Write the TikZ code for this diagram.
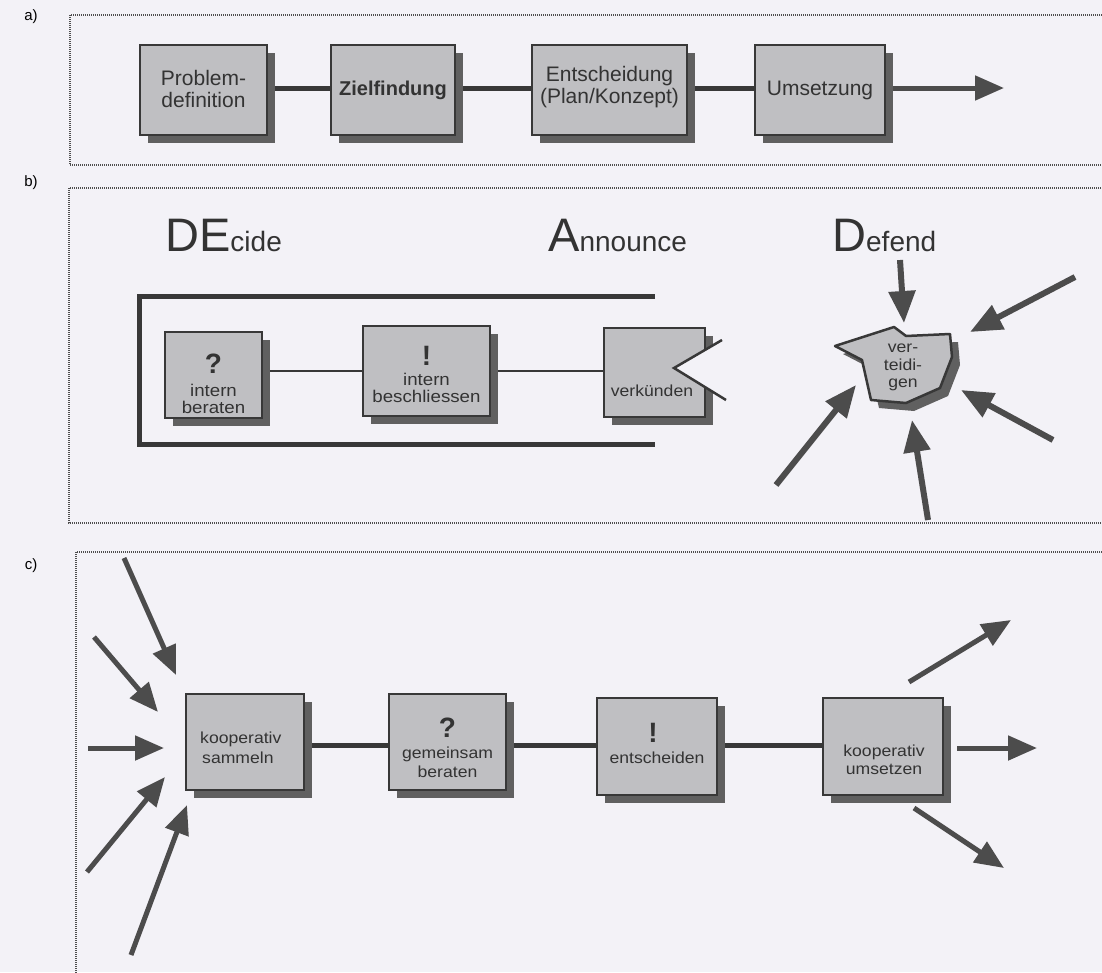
\documentclass[tikz,border=0pt]{standalone}
\usepackage{fontspec}
\setmainfont{Liberation Sans}
\newfontfamily\widesans[FakeStretch=1.1]{Liberation Sans}
\usetikzlibrary{arrows.meta,shadows}
\definecolor{paper}{HTML}{F3F2F7}
\definecolor{boxfill}{HTML}{BFBFC2}
\definecolor{boxline}{HTML}{383838}
\definecolor{shade}{HTML}{606060}
\definecolor{ink}{HTML}{333333}
\definecolor{framec}{HTML}{4E4E4E}
\definecolor{arrowc}{HTML}{4C4C4C}
\pgfdeclarelayer{paperlayer}
\pgfdeclarelayer{bg}
\pgfsetlayers{paperlayer,bg,main}
\newcommand{\atext}{\fontsize{21}{22}\selectfont}
\newcommand{\btext}{\widesans\fontsize{17}{18}\selectfont}
\newcommand{\ctext}{\widesans\fontsize{16}{20}\selectfont}
\newcommand{\blobtext}{\widesans\fontsize{16}{18}\selectfont}
\newcommand{\marksz}{\fontsize{28}{28}\selectfont\bfseries}
\newcommand{\bigsz}{\fontsize{47}{47}\selectfont}
\newcommand{\smallsz}{\fontsize{28}{28}\selectfont}
\begin{document}
\begin{tikzpicture}[x=1pt,y=-1pt,
  stage/.style={draw=boxline, line width=2pt, fill=boxfill, inner sep=0pt,
    drop shadow={shadow xshift=8pt, shadow yshift=-8pt, fill=shade, opacity=1}},
  word/.style={anchor=base, inner sep=0pt, text=ink},
  panel/.style={draw=framec, line width=1.7pt, dash pattern=on 1pt off 1pt},
  tag/.style={font=\fontsize{15}{15}\selectfont, text=black},
  heading/.style={anchor=base west, text=ink, inner sep=0pt},
  thickconn/.style={draw=boxline, line width=5pt},
  thinconn/.style={draw=boxline, line width=2.5pt},
  force/.style={draw=arrowc, line width=6pt,
    -{Triangle[length=32pt,width=26pt,fill=arrowc]}},
  flowarrow/.style={draw=arrowc, line width=5pt,
    -{Triangle[length=29pt,width=24pt,fill=arrowc]}},
]
\useasboundingbox (0,0) rectangle (1102,972);
\clip (0,0) rectangle (1102,972);
\begin{pgfonlayer}{paperlayer}
  \fill[paper] (0,0) rectangle (1102,972);
\end{pgfonlayer}

% ---------- a) linear process ----------
\node[tag] (la) at (31,17) {a)};
\draw[panel] (70,15) rectangle (1120,165);
\node[stage, minimum width=127pt, minimum height=90pt] (pd) at (203.5,90) {};
\node[stage, minimum width=124pt, minimum height=90pt] (zf) at (393,90) {};
\node[stage, minimum width=155pt, minimum height=90pt] (ent) at (609.5,90) {};
\node[stage, minimum width=130pt, minimum height=90pt] (ums) at (820,90) {};
\node[word, font=\atext] (pd1) at (pd.center |- 0,85) {Problem-};
\node[word, font=\atext] (pd2) at (pd.center |- 0,107) {definition};
\node[word, font=\fontsize{20}{22}\selectfont\bfseries] (zf1) at (zf.center |- 0,95) {Zielfindung};
\node[word, font=\atext] (ent1) at (ent.center |- 0,81) {Entscheidung};
\node[word, font=\atext] (ent2) at (ent.center |- 0,103) {(Plan/Konzept)};
\node[word, font=\atext] (ums1) at (ums.center |- 0,95) {Umsetzung};
\coordinate (aend) at (1004,88);
\begin{pgfonlayer}{bg}
  \draw[thickconn] (pd.center |- 0,88) -- (zf.center |- 0,88);
  \draw[thickconn] (zf.center |- 0,88) -- (ent.center |- 0,88);
  \draw[thickconn] (ent.center |- 0,88) -- (ums.center |- 0,88);
  \draw[flowarrow] (ums.center |- 0,88) -- (aend);
\end{pgfonlayer}

% ---------- b) decide - announce - defend ----------
\node[tag] (lb) at (31,183) {b)};
\draw[panel] (69,188) rectangle (1120,523);
\node[heading] (decide) at (165,251) {\bigsz DE\smallsz cide};
\node[heading] (announce) at (548,251) {\bigsz A\smallsz nnounce};
\node[heading] (defend) at (832,251) {\bigsz D\smallsz efend};

\coordinate (brtop) at (655,296);
\coordinate (brbot) at (655,444);
\draw[draw=boxline, line width=5pt] (brtop) -| (139,444) -- (brbot);

\node[stage, minimum width=97pt, minimum height=86pt] (ib) at (213.5,374.5) {};
\node[word, font=\marksz] (ib0) at (ib.center |- 0,373) {?};
\node[word, font=\btext] (ib1) at (ib.center |- 0,396) {intern};
\node[word, font=\btext] (ib2) at (ib.center |- 0,413) {beraten};
\node[stage, minimum width=127pt, minimum height=90pt] (is) at (426.5,371) {};
\node[word, font=\marksz] (is0) at (is.center |- 0,365) {!};
\node[word, font=\btext] (is1) at (is.center |- 0,385) {intern};
\node[word, font=\btext] (is2) at (is.center |- 0,402) {beschliessen};
\node[stage, minimum width=101pt, minimum height=89pt] (vk) at (654.5,372.5) {};
\node[word, font=\widesans\fontsize{16}{18}\selectfont] (vk1) at (652,396) {verkünden};
\begin{pgfonlayer}{bg}
  \draw[thinconn] (ib.center |- 0,371) -- (is.center |- 0,371);
  \draw[thinconn] (is.center |- 0,371) -- (vk.center |- 0,371);
\end{pgfonlayer}
% open mouth on the right side of the announcing box
\coordinate (m1) at (722,340);
\coordinate (m2) at (674,368);
\coordinate (m3) at (726,400);
\fill[paper] (m1) -- (m2) -- (m3) -- cycle;
\draw[boxline, line width=2.5pt] (m1) -- (m2) -- (m3);

% defended position
\draw[draw=boxline, line width=2.5pt, fill=boxfill, line join=round,
  drop shadow={shadow xshift=8pt, shadow yshift=-8pt, fill=shade, opacity=1}]
  (835,346) -- (894,327) -- (906,336) -- (950,334) -- (952,357)
  -- (940,388) -- (906,403) -- (871,400) -- (862,360) -- cycle;
\node[word, font=\blobtext] (vt1) at (903,352) {ver-};
\node[word, font=\blobtext] (vt2) at (903,370) {teidi-};
\node[word, font=\blobtext] (vt3) at (903,387) {gen};
\coordinate (d1s) at (900,260);  \coordinate (d1e) at (904,323);
\coordinate (d2s) at (1075,277); \coordinate (d2e) at (970,332);
\coordinate (d3s) at (1053,440); \coordinate (d3e) at (961,390);
\coordinate (d4s) at (928,520);  \coordinate (d4e) at (912,420);
\coordinate (d5s) at (776,485);  \coordinate (d5e) at (856,385);
\draw[force] (d1s) -- (d1e);
\draw[force] (d2s) -- (d2e);
\draw[force] (d3s) -- (d3e);
\draw[force] (d4s) -- (d4e);
\draw[force] (d5s) -- (d5e);

% ---------- c) cooperative process ----------
\node[tag] (lc) at (31,566) {c)};
\draw[panel] (76,552) rectangle (1120,990);
\node[stage, minimum width=118pt, minimum height=96pt] (ks) at (245,742) {};
\node[word, font=\ctext, anchor=base west] (ks1) at (200,743) {kooperativ};
\node[word, font=\ctext, anchor=base west] (ks2) at (202,763) {sammeln};
\node[stage, minimum width=117pt, minimum height=96pt] (gb) at (447.5,742) {};
\node[word, font=\marksz] (gb0) at (gb.center |- 0,737) {?};
\node[word, font=\ctext] (gb1) at (gb.center |- 0,758) {gemeinsam};
\node[word, font=\ctext] (gb2) at (gb.center |- 0,777) {beraten};
\node[stage, minimum width=120pt, minimum height=97pt] (es) at (657,746) {};
\node[word, font=\marksz] (es0) at (653,742) {!};
\node[word, font=\ctext] (es1) at (es.center |- 0,763) {entscheiden};
\node[stage, minimum width=120pt, minimum height=97pt] (ku) at (883,746) {};
\node[word, font=\ctext] (ku1) at (884,756) {kooperativ};
\node[word, font=\ctext] (ku2) at (884,774) {umsetzen};
\begin{pgfonlayer}{bg}
  \draw[thickconn] (ks.center |- 0,745) -- (gb.center |- 0,745);
  \draw[thickconn] (gb.center |- 0,745) -- (es.center |- 0,745);
  \draw[thickconn] (es.center |- 0,745) -- (ku.center |- 0,745);
\end{pgfonlayer}
\coordinate (i1s) at (124,558); \coordinate (i1e) at (176,675);
\coordinate (i2s) at (94,637);  \coordinate (i2e) at (158,712);
\coordinate (i3s) at (88,748);  \coordinate (i3e) at (164,748);
\coordinate (i4s) at (87,872);  \coordinate (i4e) at (165,777);
\coordinate (i5s) at (131,955); \coordinate (i5e) at (187,805);
\coordinate (o1s) at (909,682); \coordinate (o1e) at (1011,620);
\coordinate (o2s) at (957,748); \coordinate (o2e) at (1037,748);
\coordinate (o3s) at (914,808); \coordinate (o3e) at (1004,868);
\foreach \p in {i1,i2,i3,i4,i5,o1,o2,o3}
  \draw[flowarrow] (\p s) -- (\p e);
\end{tikzpicture}
\end{document}
